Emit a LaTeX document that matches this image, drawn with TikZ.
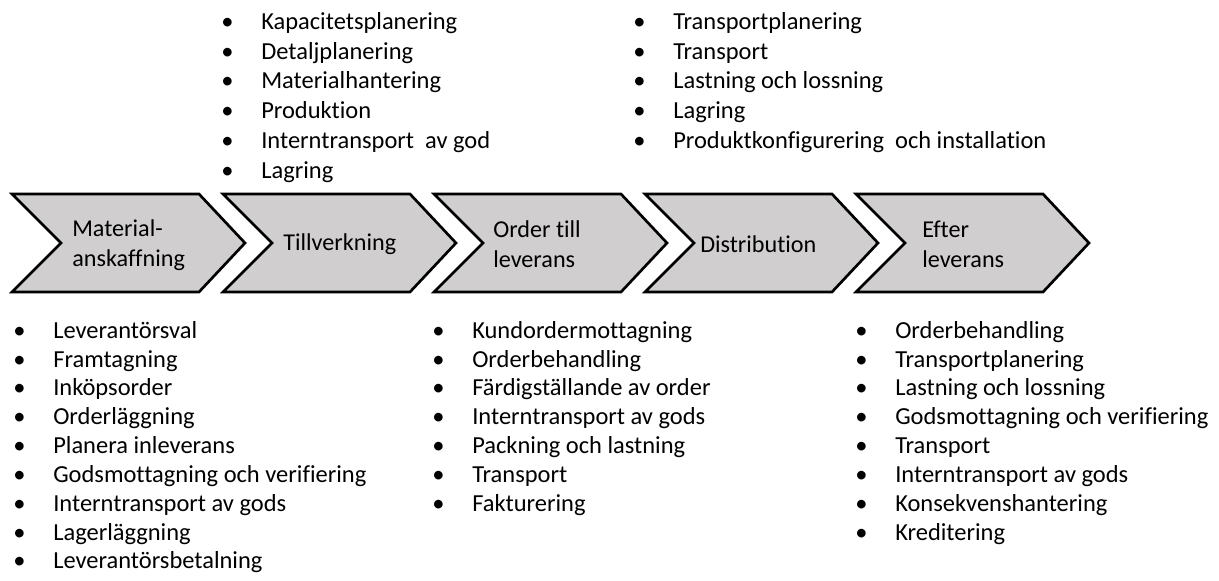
\documentclass[tikz,border=0pt]{standalone}
\usepackage{fontspec}
\setmainfont[Ligatures=NoCommon]{Carlito}
\definecolor{chevgray}{HTML}{D0CECE}
\newcommand{\bul}{\makebox[1cm][l]{\textbullet}}

\begin{document}
\begin{tikzpicture}[x=0.25mm, y=-0.25mm,
        chevron/.style={draw=black, line width=1.9pt, fill=chevgray, line join=miter},
        stage/.style={anchor=west, align=left, inner sep=0pt, font=\fontsize{17.2}{21.3}\selectfont},
        toplist/.style={anchor=north west, align=left, inner sep=0pt, font=\fontsize{17.4}{21.2}\selectfont},
        botlist/.style={anchor=north west, align=left, inner sep=0pt, font=\fontsize{17.4}{20.5}\selectfont}]
        \useasboundingbox (0,0) rectangle (1219,581);

        % the five process steps
        \draw[chevron] (12,194) -- ++(187,0) -- ++(46,49) -- ++(-46,49) -- ++(-187,0) -- ++(49,-49) -- cycle;
        \draw[chevron] (223,194) -- ++(187,0) -- ++(46,49) -- ++(-46,49) -- ++(-187,0) -- ++(49,-49) -- cycle;
        \draw[chevron] (434,194) -- ++(187,0) -- ++(46,49) -- ++(-46,49) -- ++(-187,0) -- ++(49,-49) -- cycle;
        \draw[chevron] (645,194) -- ++(187,0) -- ++(46,49) -- ++(-46,49) -- ++(-187,0) -- ++(49,-49) -- cycle;
        \draw[chevron] (856,194) -- ++(187,0) -- ++(46,49) -- ++(-46,49) -- ++(-187,0) -- ++(49,-49) -- cycle;

        \node[stage] (material) at (72,245) {Material-\\anskaffning};
        \node[stage] (tillverkning) at (283,244) {Tillverkning};
        \node[stage] (order) at (493,244) {Order till\\leverans};
        \node[stage] (distribution) at (700,244) {Distribution};
        \node[stage] (efter) at (922,244) {Efter\\leverans};

        % activities above
        \node[toplist] (tillverkningList) at (221,12) {\bul Kapacitetsplanering\\ \bul Detaljplanering\\
            \bul Materialhantering\\ \bul Produktion\\ \bul Interntransport~ av god\\ \bul Lagring};
        \node[toplist] (distributionList) at (633,12) {\bul Transportplanering\\ \bul Transport\\
            \bul Lastning och lossning\\ \bul Lagring\\ \bul Produktkonfigurering~ och installation};

        % activities below
        \node[botlist] (materialList) at (13,321) {\bul Leverantörsval\\ \bul Framtagning\\ \bul Inköpsorder\\
            \bul Orderläggning\\ \bul Planera inleverans\\ \bul Godsmottagning och verifiering\\
            \bul Interntransport av gods\\ \bul Lagerläggning\\ \bul Leverantörsbetalning};
        \node[botlist] (orderList) at (432,321) {\bul Kundordermottagning\\ \bul Orderbehandling\\
            \bul Färdigställande av order\\ \bul Interntransport av gods\\ \bul Packning och lastning\\
            \bul Transport\\ \bul Fakturering};
        \node[botlist] (efterList) at (855,321) {\bul Orderbehandling\\ \bul Transportplanering\\
            \bul Lastning och lossning\\ \bul Godsmottagning och verifiering\\ \bul Transport\\
            \bul Interntransport av gods\\ \bul Konsekvenshantering\\ \bul Kreditering};
    \end{tikzpicture}
\end{document}
